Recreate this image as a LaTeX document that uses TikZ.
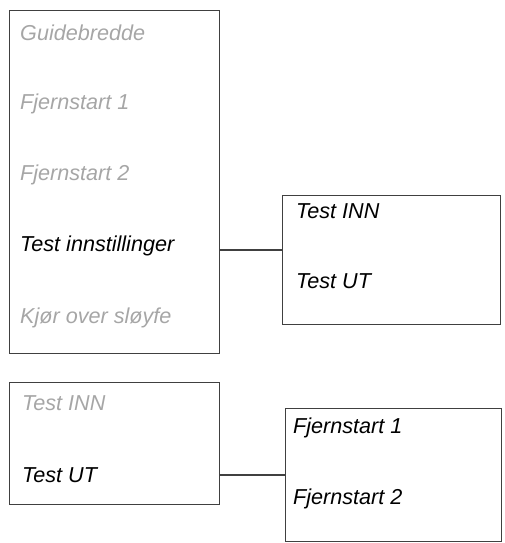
\documentclass[tikz,border=0pt]{standalone}
\usepackage{fontspec}
\setmainfont{Liberation Sans}
\begin{document}
\begin{tikzpicture}[x=1pt,y=-1pt,
  box/.style={draw=black!75,line width=1.2pt,inner sep=0pt,anchor=north west},
  itm/.style={anchor=west,inner sep=0pt,font=\fontsize{21.6}{24}\selectfont\itshape},
  dim/.style={itm,text=black!35},
  act/.style={itm,text=black},
  conn/.style={draw=black!75,line width=1.2pt}]
\useasboundingbox (0,0) rectangle (504,543);
% boxes
\node[box,minimum width=210pt,minimum height=343pt] (b1) at (9,10) {};
\node[box,minimum width=218pt,minimum height=129pt] (b2) at (282,195) {};
\node[box,minimum width=210pt,minimum height=122pt] (b3) at (9,382) {};
\node[box,minimum width=216pt,minimum height=133pt] (b4) at (285,408) {};
% texts box 1
\node[dim] (t11) at (20,33) {Guidebredde};
\node[dim] (t12) at (20,104) {Fjernstart 1};
\node[dim] (t13) at (20,175) {Fjernstart 2};
\node[act] (t14) at (20,246) {Test innstillinger};
\node[dim] (t15) at (20,318) {Kjør over sløyfe};
% box 2
\node[act] (t21) at (296,211) {Test INN};
\node[act] (t22) at (296,281) {Test UT};
% box 3
\node[dim] (t31) at (22,403) {Test INN};
\node[act] (t32) at (22,475) {Test UT};
% box 4
\node[act] (t41) at (293,428) {Fjernstart 1};
\node[act] (t42) at (293,499) {Fjernstart 2};
% connectors
\coordinate (c1) at (0,250);
\coordinate (c2) at (0,475);
\draw[conn] (b1.east |- c1) -- (b2.west |- c1);
\draw[conn] (b3.east |- c2) -- (b4.west |- c2);
\end{tikzpicture}
\end{document}
